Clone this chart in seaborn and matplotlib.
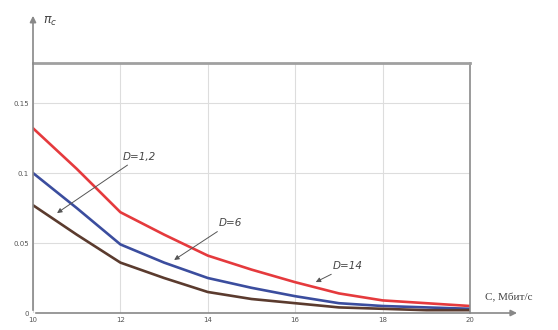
import numpy as np
import pandas as pd
import seaborn as sns
import matplotlib
matplotlib.use("Agg")
import matplotlib.pyplot as plt

# ---- data ----
C = [10, 11, 12, 13, 14, 15, 16, 17, 18, 19, 20]
pi_D14 = [0.132, 0.103, 0.072, 0.056, 0.041, 0.031, 0.022, 0.014, 0.009, 0.007, 0.005]
pi_D6 = [0.100, 0.075, 0.049, 0.036, 0.025, 0.018, 0.012, 0.007, 0.005, 0.004, 0.003]
pi_D12 = [0.077, 0.056, 0.036, 0.025, 0.015, 0.010, 0.007, 0.004, 0.003, 0.002, 0.002]
series_names = ["D=14", "D=6", "D=1,2"]
x_ticks = [10, 12, 14, 16, 18, 20]
y_ticks = [0, 0.05, 0.1, 0.15]
y_ticklabels = ["0", "0.05", "0.1", "0.15"]

df = pd.DataFrame({
    "C": C * 3,
    "pi": pi_D14 + pi_D6 + pi_D12,
    "D": [series_names[0]] * len(C) + [series_names[1]] * len(C) + [series_names[2]] * len(C),
})

sns.set_style("white")
plt.rcParams["font.family"] = ["DejaVu Sans"]

fig = plt.figure(figsize=(5.58, 3.30), dpi=100)
ax = fig.add_axes([33 / 558, 17 / 330, 437 / 558, 250 / 330])

palette = {"D=14": "#e53a3d", "D=6": "#3b4d9e", "D=1,2": "#5b3b2e"}
sns.lineplot(data=df, x="C", y="pi", hue="D", palette=palette, linewidth=1.9,
             legend=False, ax=ax)

ax.set_xlim(10, 20)
ax.set_ylim(0, 0.1786)
ax.set_xticks(x_ticks)
ax.set_xticklabels([str(t) for t in x_ticks], fontsize=5, color="#555555")
ax.set_yticks(y_ticks)
ax.set_yticklabels(y_ticklabels, fontsize=5, color="#555555")
ax.tick_params(length=0, pad=3)
ax.set_xlabel("")
ax.set_ylabel("")
ax.grid(True, color="#dddddd", linewidth=0.8)

for s in ["left", "bottom"]:
    ax.spines[s].set_visible(False)
ax.spines["top"].set_color("#a0a0a0")
ax.spines["top"].set_linewidth(2.0)
ax.spines["right"].set_color("#8a8a8a")
ax.spines["right"].set_linewidth(1.2)

# axes with arrows
ax.annotate("", xy=(0, 1.2), xytext=(0, 0), xycoords="axes fraction",
            arrowprops=dict(arrowstyle="-|>", color="#888888", lw=1.2, mutation_scale=9),
            annotation_clip=False)
ax.annotate("", xy=(1.114, 0), xytext=(0, 0), xycoords="axes fraction",
            arrowprops=dict(arrowstyle="-|>", color="#888888", lw=1.2, mutation_scale=9),
            annotation_clip=False)
ax.text(0.022, 1.165, r"$\pi_c$", transform=ax.transAxes, fontsize=9, color="#444444",
        ha="left", va="center")
ax.text(1.035, 0.06, "C, Мбит/с", transform=ax.transAxes, fontsize=8, color="#444444",
        ha="left", va="center", family="Liberation Serif")

# curve labels
arrow_kw = dict(arrowstyle="-|>", color="#555555", lw=0.7, mutation_scale=7,
                shrinkA=0, shrinkB=0)
ax.annotate("D=1,2", xy=(10.55, 0.0714), xytext=(12.06, 0.108), fontsize=7.5,
            style="italic", color="#444444", ha="left", va="bottom",
            arrowprops=arrow_kw)
ax.annotate("D=6", xy=(13.23, 0.0379), xytext=(14.24, 0.0605), fontsize=7.5,
            style="italic", color="#444444", ha="left", va="bottom",
            arrowprops=arrow_kw)
ax.annotate("D=14", xy=(16.47, 0.0221), xytext=(16.86, 0.0300), fontsize=7.5,
            style="italic", color="#444444", ha="left", va="bottom",
            arrowprops=arrow_kw)

fig.savefig("out.png", dpi=100)
